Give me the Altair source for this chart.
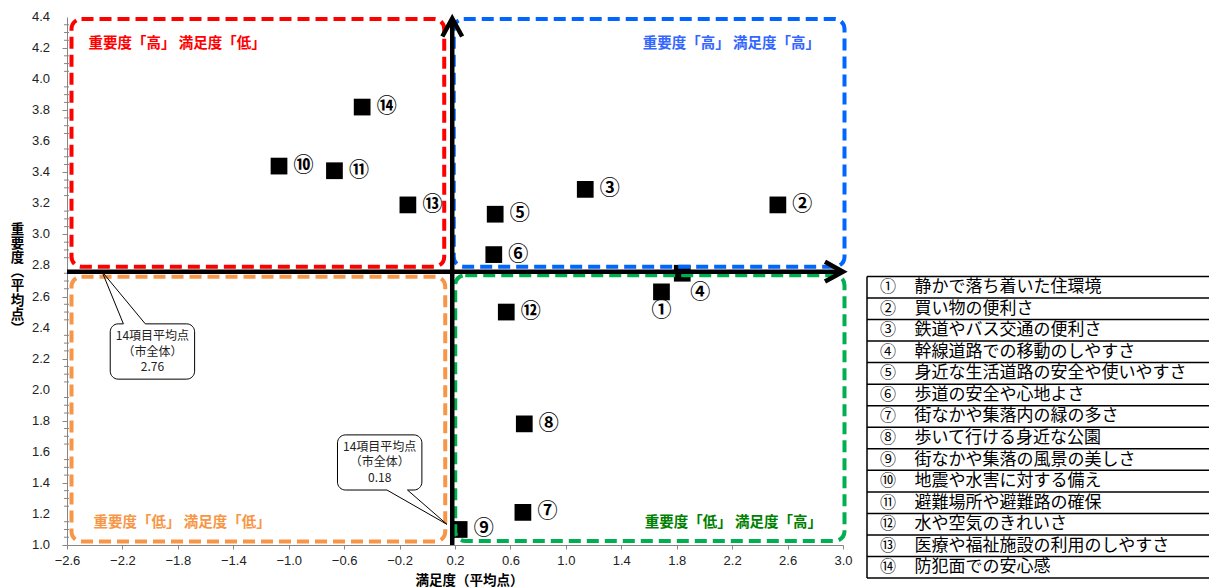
import altair as alt
import pandas as pd

# ---------------- data ----------------
X_MIN, X_MAX = -2.6, 3.0
Y_MIN, Y_MAX = 1.0, 4.4
MEAN_SAT = 0.18   # 14項目平均点 満足度
MEAN_IMP = 2.76   # 14項目平均点 重要度

nums = ["①", "②", "③", "④", "⑤", "⑥", "⑦", "⑧", "⑨", "⑩", "⑪", "⑫", "⑬", "⑭"]
items = [
    "静かで落ち着いた住環境",
    "買い物の便利さ",
    "鉄道やバス交通の便利さ",
    "幹線道路での移動のしやすさ",
    "身近な生活道路の安全や使いやすさ",
    "歩道の安全や心地よさ",
    "街なかや集落内の緑の多さ",
    "歩いて行ける身近な公園",
    "街なかや集落の風景の美しさ",
    "地震や水害に対する備え",
    "避難場所や避難路の確保",
    "水や空気のきれいさ",
    "医療や福祉施設の利用のしやすさ",
    "防犯面での安心感",
]
satisfaction = [1.69, 2.53, 1.14, 1.84, 0.49, 0.48, 0.69, 0.70, 0.23, -1.07, -0.67, 0.57, -0.14, -0.47]
importance = [2.63, 3.19, 3.29, 2.75, 3.13, 2.87, 1.21, 1.78, 1.10, 3.44, 3.41, 2.50, 3.19, 3.82]

quad_labels = [
    "重要度「高」 満足度「低」",
    "重要度「高」 満足度「高」",
    "重要度「低」 満足度「低」",
    "重要度「低」 満足度「高」",
]

# callout annotations (data units)
callout_text = [
    f"14項目平均点\n（市全体）\n{MEAN_IMP:.2f}",
    f"14項目平均点\n（市全体）\n{MEAN_SAT:.2f}",
]
callout_x1 = [-2.288, -0.648]
callout_x2 = [-1.679, -0.039]
callout_ytop = [2.424, 1.709]
callout_ybot = [2.068, 1.354]
callout_base_a = [-2.193, -0.291]
callout_base_b = [-2.035, -0.143]
callout_base_y = [2.424, 1.354]
callout_tip_x = [-2.347, 0.142]
callout_tip_y = [MEAN_IMP, 1.133]

# axis tick values
x_ticks = [round(X_MIN + 0.2 * i, 2) for i in range(29)]
y_major = [round(Y_MIN + 0.2 * i, 2) for i in range(18)]
y_minor = [round(Y_MIN + 0.05 * i, 2) for i in range(69) if i % 4 != 0]

# ---------------- styling ----------------
JP = "Noto Sans CJK JP"
NUM_FONT = "Liberation Sans"
RED, BLUE, ORANGE, GREEN = "#FF0000", "#0066FF", "#F79646", "#00B050"
BLUE_TXT, GREEN_TXT = "#3366FF", "#008000"
AXIS_GRAY = "#868686"

TABLE_TOP, ROW_H = 259.4, 21.55   # legend table layout (pixels in plot coords)

xs = alt.Scale(domain=[X_MIN, X_MAX], nice=False, zero=False)
ys = alt.Scale(domain=[Y_MIN, Y_MAX], nice=False, zero=False)

x_axis = alt.Axis(
    values=x_ticks,
    labelExpr="abs((datum.value + 2.6) / 0.4 - round((datum.value + 2.6) / 0.4)) < 0.01 ? format(datum.value, '.1f') : ''",
    labelOverlap=False, labelFlush=False, grid=False,
    domainColor=AXIS_GRAY, tickColor=AXIS_GRAY, tickSize=4, labelPadding=5,
    labelFont=NUM_FONT, labelFontSize=13, labelColor="#222222",
    title="満足度（平均点）", titleFont=JP, titleFontSize=13.5, titleFontWeight="bold",
    titleColor="black", titlePadding=6, titleX=402, titleAlign="center",
)
y_axis = alt.Axis(
    values=y_major, labels=False, grid=False,
    domainColor=AXIS_GRAY, tickColor=AXIS_GRAY, tickSize=5,
    title=["重", "要", "度", "︵", "平", "均", "点", "︶"],
    titleFont=JP, titleFontSize=13.5, titleFontWeight="bold", titleColor="black",
    titleAngle=0, titleAlign="center", titleBaseline="middle",
    titleLineHeight=14.2, titleX=-50, titleY=212,
)


def XD(v):
    return alt.XDatum(v, scale=xs, type="quantitative")


def YD(v):
    return alt.YDatum(v, scale=ys, type="quantitative")


one = pd.DataFrame({"k": [0]})

# ---------------- points ----------------
points = pd.DataFrame({"num": nums, "item": items, "sat": satisfaction, "imp": importance})
base = alt.Chart(points)

squares = base.mark_square(size=280, color="black", opacity=1, strokeWidth=0).encode(
    x=alt.X("sat:Q", scale=xs, axis=x_axis),
    y=alt.Y("imp:Q", scale=ys, axis=y_axis),
)

# y axis minor ticks and labels
minor_y = alt.Chart(pd.DataFrame({"v": y_minor})).mark_rule(color=AXIS_GRAY, strokeWidth=1).encode(
    x=alt.value(-3), x2=alt.value(2), y=alt.Y("v:Q", scale=ys)
)
y_labels = alt.Chart(pd.DataFrame({"v": y_major})).transform_calculate(
    lbl="format(datum.v, '.1f')"
).mark_text(font=NUM_FONT, fontSize=13, color="#222222", align="right", baseline="middle").encode(
    x=alt.value(-17), y=alt.Y("v:Q", scale=ys), text="lbl:N"
)

lab_kw = dict(font=JP, fontSize=20, fontWeight="bold", color="black", baseline="middle", align="center")
pt_enc = dict(
    x=alt.X("sat:Q", scale=xs),
    y=alt.Y("imp:Q", scale=ys),
    text="num:N",
)
labels_right = base.transform_filter("datum.num != '①' && datum.num != '④'").mark_text(dx=24.5, **lab_kw).encode(**pt_enc)
label_below = base.transform_filter("datum.num == '①'").mark_text(dy=19.5, **lab_kw).encode(**pt_enc)
label_diag = base.transform_filter("datum.num == '④'").mark_text(dx=18, dy=20, **lab_kw).encode(**pt_enc)

# ---------------- quadrant boxes ----------------
box_kw = dict(fill="transparent", strokeWidth=4, strokeDash=[12, 6], cornerRadius=10)


def qbox(x1, x2, y1, y2, color, xo, x2o, yo, y2o):
    return alt.Chart(one).mark_rect(stroke=color, xOffset=xo, x2Offset=x2o, yOffset=yo, y2Offset=y2o, **box_kw).encode(
        x=XD(x1), x2=alt.X2Datum(x2), y=YD(y1), y2=alt.Y2Datum(y2)
    )


box_red = qbox(X_MIN, MEAN_SAT, Y_MAX, MEAN_IMP, RED, 4.5, -8, 2, -5)
box_blue = qbox(MEAN_SAT, X_MAX, Y_MAX, MEAN_IMP, BLUE, 1.5, 1.5, 2, -5)
box_orange = qbox(X_MIN, MEAN_SAT, MEAN_IMP, Y_MIN, ORANGE, 4.5, -7, 5, -3.5)
box_green = qbox(MEAN_SAT, X_MAX, MEAN_IMP, Y_MIN, GREEN, 3, 1.5, 3.5, -4)

qt_kw = dict(font=JP, fontSize=14.5, fontWeight="bold", baseline="middle")
qlab_red = alt.Chart(one).mark_text(align="left", dx=21.5, dy=26.5, color=RED, text=quad_labels[0], **qt_kw).encode(x=XD(X_MIN), y=YD(Y_MAX))
qlab_blue = alt.Chart(one).mark_text(align="right", dx=-23, dy=26.5, color=BLUE_TXT, text=quad_labels[1], **qt_kw).encode(x=XD(X_MAX), y=YD(Y_MAX))
qlab_orange = alt.Chart(one).mark_text(align="left", dx=26.5, dy=-22, color=ORANGE, text=quad_labels[2], **qt_kw).encode(x=XD(X_MIN), y=YD(Y_MIN))
qlab_green = alt.Chart(one).mark_text(align="right", dx=-21, dy=-22, color=GREEN_TXT, text=quad_labels[3], **qt_kw).encode(x=XD(X_MAX), y=YD(Y_MIN))

# ---------------- mean axis arrows ----------------
h_line = alt.Chart(one).mark_rule(color="black", strokeWidth=4.5, x2Offset=-2).encode(
    x=XD(X_MIN), x2=alt.X2Datum(X_MAX), y=YD(MEAN_IMP)
)
v_line = alt.Chart(one).mark_rule(color="black", strokeWidth=4.5, y2Offset=2).encode(
    x=XD(MEAN_SAT), y=YD(Y_MIN), y2=alt.Y2Datum(Y_MAX)
)
arrow_right = alt.Chart(one).mark_point(
    shape="M -1 -0.55 L 0 0 L -1 0.55", size=1296, filled=False, stroke="black",
    strokeWidth=4.5, opacity=1, strokeJoin="miter", strokeCap="butt",
).encode(x=XD(X_MAX), y=YD(MEAN_IMP))
arrow_up = alt.Chart(one).mark_point(
    shape="M -0.55 1 L 0 0 L 0.55 1", size=1296, filled=False, stroke="black",
    strokeWidth=4.5, opacity=1, strokeJoin="miter", strokeCap="butt", yOffset=1.5,
).encode(x=XD(MEAN_SAT), y=YD(Y_MAX))

# ---------------- callouts ----------------
cbox = pd.DataFrame({
    "x1": callout_x1, "x2": callout_x2, "yt": callout_ytop, "yb": callout_ybot,
    "txt": callout_text,
    "cx": [(a + b) / 2 for a, b in zip(callout_x1, callout_x2)],
    "cy": [(a + b) / 2 for a, b in zip(callout_ytop, callout_ybot)],
    "ba": callout_base_a, "bb": callout_base_b, "by": callout_base_y,
})
callout_rect = alt.Chart(cbox).mark_rect(fill="white", stroke="black", strokeWidth=1, cornerRadius=8).encode(
    x=alt.X("x1:Q", scale=xs), x2="x2:Q",
    y=alt.Y("yt:Q", scale=ys), y2="yb:Q",
)
callout_gap = alt.Chart(cbox).mark_rule(color="white", strokeWidth=2.5).encode(
    x=alt.X("ba:Q", scale=xs), x2="bb:Q", y=alt.Y("by:Q", scale=ys)
)
ptr_rows = []
for i in range(2):
    ptr_rows.append({"c": i, "o": 0, "px": callout_base_a[i], "py": callout_base_y[i]})
    ptr_rows.append({"c": i, "o": 1, "px": callout_tip_x[i], "py": callout_tip_y[i]})
    ptr_rows.append({"c": i, "o": 2, "px": callout_base_b[i], "py": callout_base_y[i]})
pointer = alt.Chart(pd.DataFrame(ptr_rows)).mark_line(color="black", strokeWidth=1).encode(
    x=alt.X("px:Q", scale=xs), y=alt.Y("py:Q", scale=ys),
    detail="c:N", order="o:Q",
)
callout_txt = alt.Chart(cbox).mark_text(font=JP, fontSize=12, lineHeight=15.5, lineBreak="\n", dy=-15.5,
                                        align="center", baseline="middle", color="#222222").encode(
    x=alt.X("cx:Q", scale=xs), y=alt.Y("cy:Q", scale=ys), text="txt:N"
)

# ---------------- legend table (pixel layout) ----------------
legend_df = pd.DataFrame({"num": nums, "item": items, "row": list(range(14))})
edges = pd.DataFrame({"edge": list(range(15))})

t_lines = alt.Chart(edges).transform_calculate(py=f"{TABLE_TOP} + datum.edge * {ROW_H}").mark_rule(
    color="black", strokeWidth=1.5
).encode(x=alt.value(800), x2=alt.value(1170), y=alt.Y("py:Q", scale=None))
t_left = alt.Chart(one).mark_rule(color="black", strokeWidth=1.5).encode(
    x=alt.value(800), y=alt.value(TABLE_TOP), y2=alt.value(TABLE_TOP + 14 * ROW_H)
)
t_nums = alt.Chart(legend_df).transform_calculate(py=f"{TABLE_TOP} + (datum.row + 0.5) * {ROW_H}").mark_text(
    font=JP, fontSize=16, align="center", baseline="middle", color="black"
).encode(x=alt.value(821), y=alt.Y("py:Q", scale=None), text="num:N")
t_items = alt.Chart(legend_df).transform_calculate(py=f"{TABLE_TOP} + (datum.row + 0.5) * {ROW_H}").mark_text(
    font=JP, fontSize=17, align="left", baseline="middle", color="black"
).encode(x=alt.value(847.5), y=alt.Y("py:Q", scale=None), text="item:N")

chart = alt.layer(
    squares, minor_y, y_labels,
    box_red, box_blue, box_orange, box_green,
    labels_right, label_below, label_diag,
    h_line, v_line, arrow_right, arrow_up,
    qlab_red, qlab_blue, qlab_orange, qlab_green,
    callout_rect, callout_gap, pointer, callout_txt,
    t_lines, t_left, t_nums, t_items,
).properties(
    width=776, height=528,
    padding={"left": 59, "top": 9, "right": 366, "bottom": 43},
    autosize=alt.AutoSizeParams(type="none"),
    background="white",
).configure_view(stroke=None)

chart.save("out.html", embed_options={"renderer": "svg", "actions": False})
